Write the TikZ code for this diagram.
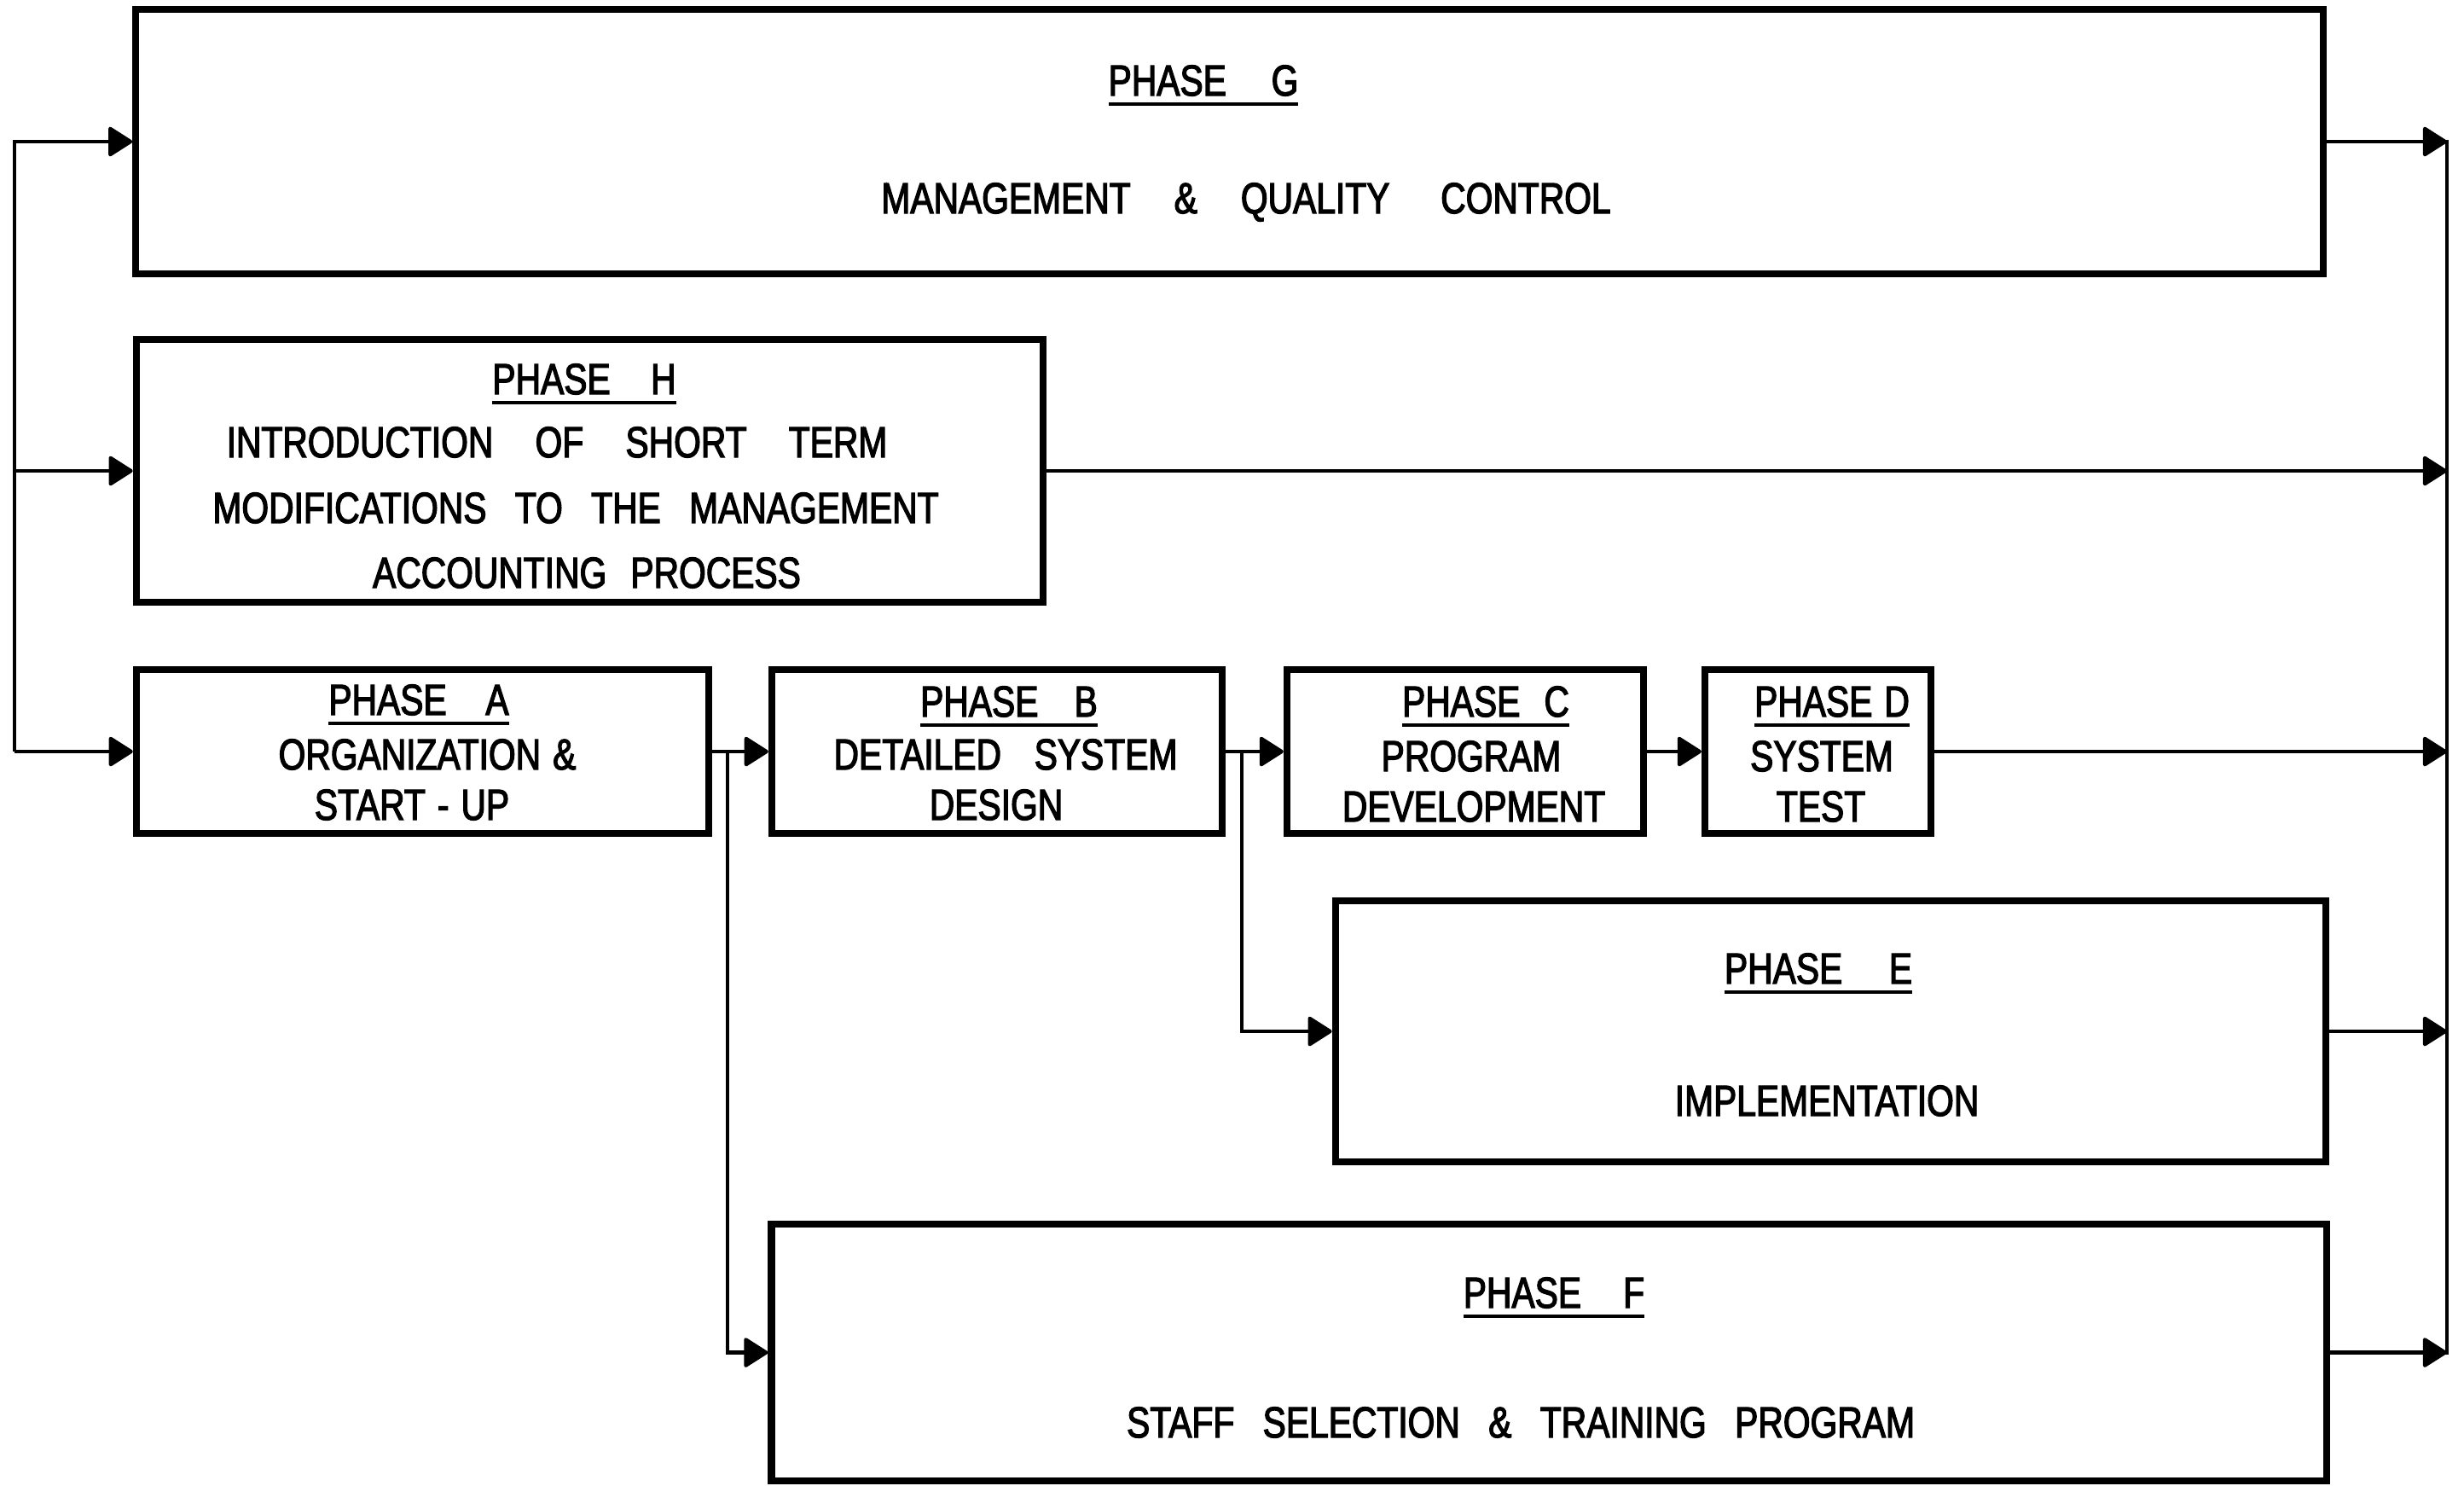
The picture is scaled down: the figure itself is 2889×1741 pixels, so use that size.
\documentclass[tikz,border=0pt]{standalone}
\usepackage{fontspec}
\setmainfont{Liberation Sans}[FakeStretch=0.80,FakeBold=2.5]
\usetikzlibrary{arrows.meta}
\newcommand\phul[1]{\setbox0\hbox{#1}\rlap{\rule[-3.5pt]{\wd0}{1.2pt}}\box0}
\newcommand\gp[1]{\hspace{#1pt}}
\begin{document}
\begin{tikzpicture}[x=0.01cm, y=-0.01cm,
  font=\fontsize{14.5}{17}\selectfont,
  box/.style={draw, line width=2.3pt, rectangle, inner sep=0pt},
  txt/.style={inner sep=0pt, anchor=base},
  conn/.style={line width=1.2pt, -{Triangle[length=0.30cm,width=0.37cm,round]}},
  wire/.style={line width=1.2pt, line cap=rect}]
\useasboundingbox (0,0) rectangle (2889,1741);
% boxes
\node[box, minimum width=25.63cm, minimum height=3.10cm] (G) at (1441.5,166) {};
\node[box, minimum width=10.63cm, minimum height=3.08cm] (H) at (691.5,552) {};
\node[box, minimum width=6.71cm, minimum height=1.92cm] (A) at (495.5,881) {};
\node[box, minimum width=5.28cm, minimum height=1.92cm] (B) at (1169,881) {};
\node[box, minimum width=4.18cm, minimum height=1.92cm] (C) at (1718,881) {};
\node[box, minimum width=2.65cm, minimum height=1.92cm] (D) at (2131.5,881) {};
\node[box, minimum width=11.61cm, minimum height=3.06cm] (E) at (2146.5,1209) {};
\node[box, minimum width=18.22cm, minimum height=3.01cm] (F) at (1816,1585.5) {};
% texts
\node[txt] (gt1) at (1411,112) {\phul{PHASE\gp{15}G}};
\node[txt] (gt2) at (1461,250) {MANAGEMENT\gp{14.5}\&\gp{14.5}QUALITY\gp{17}CONTROL};
\node[txt] (ht1) at (685,462) {\phul{PHASE\gp{13.5}H}};
\node[txt] (ht2) at (653,536) {INTRODUCTION\gp{14}OF\gp{14}SHORT\gp{14}TERM};
\node[txt] (ht3) at (675,613) {MODIFICATIONS\gp{9.5}TO\gp{9.5}THE\gp{9.5}MANAGEMENT};
\node[txt] (ht4) at (688,689) {ACCOUNTING\gp{8}PROCESS};
\node[txt] (at1) at (491,838) {\phul{PHASE\gp{13}A}};
\node[txt] (at2) at (501,902) {ORGANIZATION\gp{4}\&};
\node[txt] (at3) at (483,961) {START\gp{4}-\gp{4}UP};
\node[txt] (bt1) at (1183,840) {\phul{PHASE\gp{12}B}};
\node[txt] (bt2) at (1179,902) {DETAILED\gp{11}SYSTEM};
\node[txt] (bt3) at (1168,961) {DESIGN};
\node[txt] (ct1) at (1742,840) {\phul{PHASE\gp{8}C}};
\node[txt] (ct2) at (1725,904) {PROGRAM};
\node[txt] (ct3) at (1728,963) {DEVELOPMENT};
\node[txt] (dt1) at (2148,840) {\phul{PHASE\gp{4}D}};
\node[txt] (dt2) at (2136,904) {SYSTEM};
\node[txt] (dt3) at (2135,963) {TEST};
\node[txt] (et1) at (2132,1153) {\phul{PHASE\gp{15.5}E}};
\node[txt] (et2) at (2142,1308) {IMPLEMENTATION};
\node[txt] (ft1) at (1822,1533) {\phul{PHASE\gp{14}F}};
\node[txt] (ft2) at (1783,1685) {STAFF\gp{9.5}SELECTION\gp{9.5}\&\gp{9.5}TRAINING\gp{9.5}PROGRAM};
% connector helpers
\coordinate (L) at (17,0);
\coordinate (R) at (2869,0);
\coordinate (ja) at (853,0);
\coordinate (jb) at (1456,0);
% left feed
\draw[conn] (L |- A.west) -- (L |- G.west) -- (G.west);
\draw[conn] (L |- H.west) -- (H.west);
\draw[conn] (L |- A.west) -- (A.west);
% chain
\draw[conn] (A.east) -- (B.west);
\draw[conn] (ja |- A.east) |- (F.west);
\draw[conn] (B.east) -- (C.west);
\draw[conn] (jb |- B.east) |- (E.west);
\draw[conn] (C.east) -- (D.west);
% right collector
\draw[wire] (R |- G.east) -- (R |- F.east);
\draw[conn] (G.east) -- (R |- G.east);
\draw[conn] (H.east) -- (R |- H.east);
\draw[conn] (D.east) -- (R |- D.east);
\draw[conn] (E.east) -- (R |- E.east);
\draw[conn] (F.east) -- (R |- F.east);
\end{tikzpicture}
\end{document}
